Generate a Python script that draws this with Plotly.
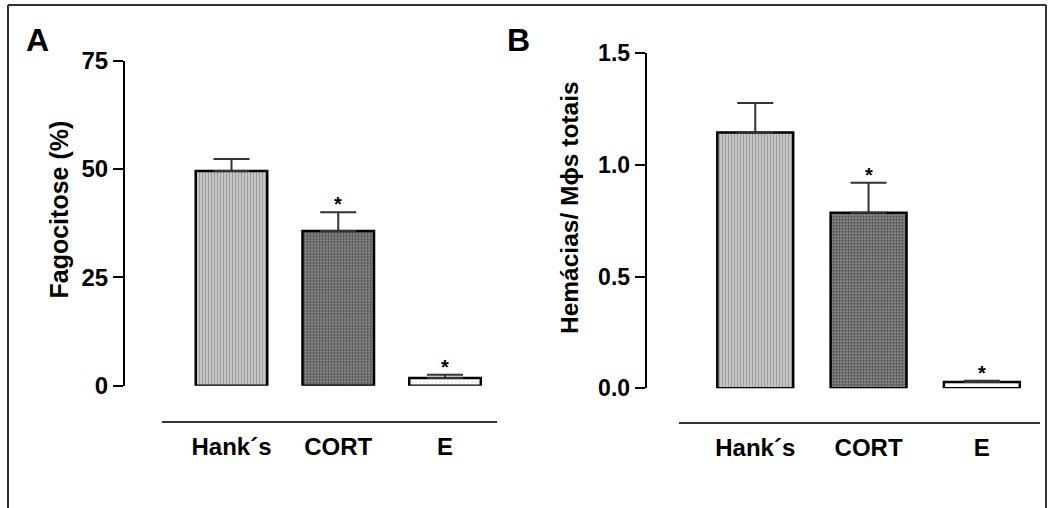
import plotly.graph_objects as go

W, H = 1050, 508

categories = ["Hank\u00b4s", "CORT", "E"]
fago_mean = [49.5, 35.7, 1.8]
fago_err = [2.8, 4.3, 0.7]
hem_mean = [1.145, 0.786, 0.028]
hem_err = [0.132, 0.134, 0.006]
sig = ["", "*", "*"]
fago_ticks = [0, 25, 50, 75]
hem_ticks = [0.0, 0.5, 1.0, 1.5]

FONT = "Liberation Sans, Arial, sans-serif"

patterns = [
    dict(shape="|", fgcolor="#6e6e6e", bgcolor="#cacaca", size=3, solidity=0.4),
    dict(shape=".", fgcolor="#000000", bgcolor="#a0a0a0", size=3, solidity=0.65),
    dict(shape=".", fgcolor="#aaaaaa", bgcolor="#ffffff", size=4, solidity=0.15),
]
fills = ["#cacaca", "#a0a0a0", "#ffffff"]

def px_x(p):
    return p / W

def px_y(p):
    return 1 - p / H

fig = go.Figure()

for i, (xa, ya, means, errs) in enumerate([("x", "y", fago_mean, fago_err), ("x2", "y2", hem_mean, hem_err)]):
    for j, cat in enumerate(categories):
        fig.add_trace(go.Bar(
            x=[cat], y=[means[j]], xaxis=xa, yaxis=ya,
            width=0.67,
            marker=dict(color=fills[j], pattern=patterns[j], line=dict(color="#000000", width=2.5)),
            error_y=dict(type="data", symmetric=False, array=[errs[j]], arrayminus=[0],
                         color="#333333", thickness=2, width=18),
            showlegend=False, hoverinfo="skip",
        ))

axis_common = dict(showgrid=False, zeroline=False, fixedrange=True, automargin=False)

fig.update_layout(
    width=W, height=H,
    margin=dict(l=0, r=0, t=0, b=0, pad=0),
    paper_bgcolor="white", plot_bgcolor="rgba(0,0,0,0)",
    font=dict(family=FONT, color="#000000"),
    barmode="overlay",
    xaxis=dict(**axis_common, domain=[px_x(162), px_x(497)], anchor="free", position=px_y(421.7),
               range=[-0.651, 2.487], type="category", categoryorder="array", categoryarray=categories,
               showline=True, linecolor="#333333", linewidth=2,
               ticks="outside", ticklen=3, tickcolor="rgba(0,0,0,0)",
               tickfont=dict(size=24, family=FONT, color="#000000", weight="bold")),
    yaxis=dict(**axis_common, domain=[px_y(385.7), px_y(60.5)], anchor="free", position=px_x(124),
               range=[0, 75], tickvals=fago_ticks, ticktext=[str(v) for v in fago_ticks],
               showline=True, linecolor="#000000", linewidth=2,
               ticks="outside", ticklen=10, tickwidth=2, tickcolor="#000000",
               tickfont=dict(size=24, family=FONT, color="#000000", weight="bold")),
    xaxis2=dict(**axis_common, domain=[px_x(679), px_x(1040)], anchor="free", position=px_y(422.7),
                range=[-0.673, 2.513], type="category", categoryorder="array", categoryarray=categories,
                showline=True, linecolor="#333333", linewidth=2,
                ticks="outside", ticklen=3, tickcolor="rgba(0,0,0,0)",
                tickfont=dict(size=24, family=FONT, color="#000000", weight="bold")),
    yaxis2=dict(**axis_common, domain=[px_y(388.3), px_y(53.3)], anchor="free", position=px_x(645.7),
                range=[0, 1.5], tickvals=hem_ticks, ticktext=[f"{v:.1f}" for v in hem_ticks],
                showline=True, linecolor="#000000", linewidth=2,
                ticks="outside", ticklen=10, tickwidth=2, tickcolor="#000000",
                tickfont=dict(size=23, family=FONT, color="#000000", weight="bold")),
)

annotations = []
# significance stars
for xa, ya, means, errs in [("x", "y", fago_mean, fago_err), ("x2", "y2", hem_mean, hem_err)]:
    for j, cat in enumerate(categories):
        if sig[j]:
            annotations.append(dict(x=cat, y=means[j] + errs[j], xref=xa, yref=ya,
                                    text="<b>" + sig[j] + "</b>", showarrow=False,
                                    yanchor="middle", yshift=8,
                                    font=dict(size=20, family=FONT, color="#000000")))
# axis titles
annotations.append(dict(x=px_x(59), y=px_y(209.5), xref="paper", yref="paper",
                        text="<b>Fagocitose (%)</b>", textangle=-90, showarrow=False,
                        xanchor="center", yanchor="middle",
                        font=dict(size=25, family=FONT, color="#000000")))
annotations.append(dict(x=px_x(570), y=px_y(208), xref="paper", yref="paper",
                        text="<b>Hemácias/ M\u03d5s totais</b>", textangle=-90, showarrow=False,
                        xanchor="center", yanchor="middle",
                        font=dict(size=24.5, family=FONT, color="#000000")))
# panel letters
annotations.append(dict(x=px_x(37.5), y=px_y(40), xref="paper", yref="paper", text="<b>A</b>",
                        showarrow=False, xanchor="center", yanchor="middle",
                        font=dict(size=32, family=FONT, color="#000000")))
annotations.append(dict(x=px_x(518), y=px_y(40), xref="paper", yref="paper", text="<b>B</b>",
                        showarrow=False, xanchor="center", yanchor="middle",
                        font=dict(size=32, family=FONT, color="#000000")))
fig.update_layout(annotations=annotations)

# outer frame
frame = dict(type="line", xref="paper", yref="paper", line=dict(color="#333333", width=2))
fig.update_layout(shapes=[
    dict(frame, x0=px_x(8), x1=px_x(1046), y0=px_y(5), y1=px_y(5)),
    dict(frame, x0=px_x(8), x1=px_x(8), y0=px_y(5), y1=0),
    dict(frame, x0=px_x(1046), x1=px_x(1046), y0=px_y(5), y1=0),
])

fig.write_html("out.html")
